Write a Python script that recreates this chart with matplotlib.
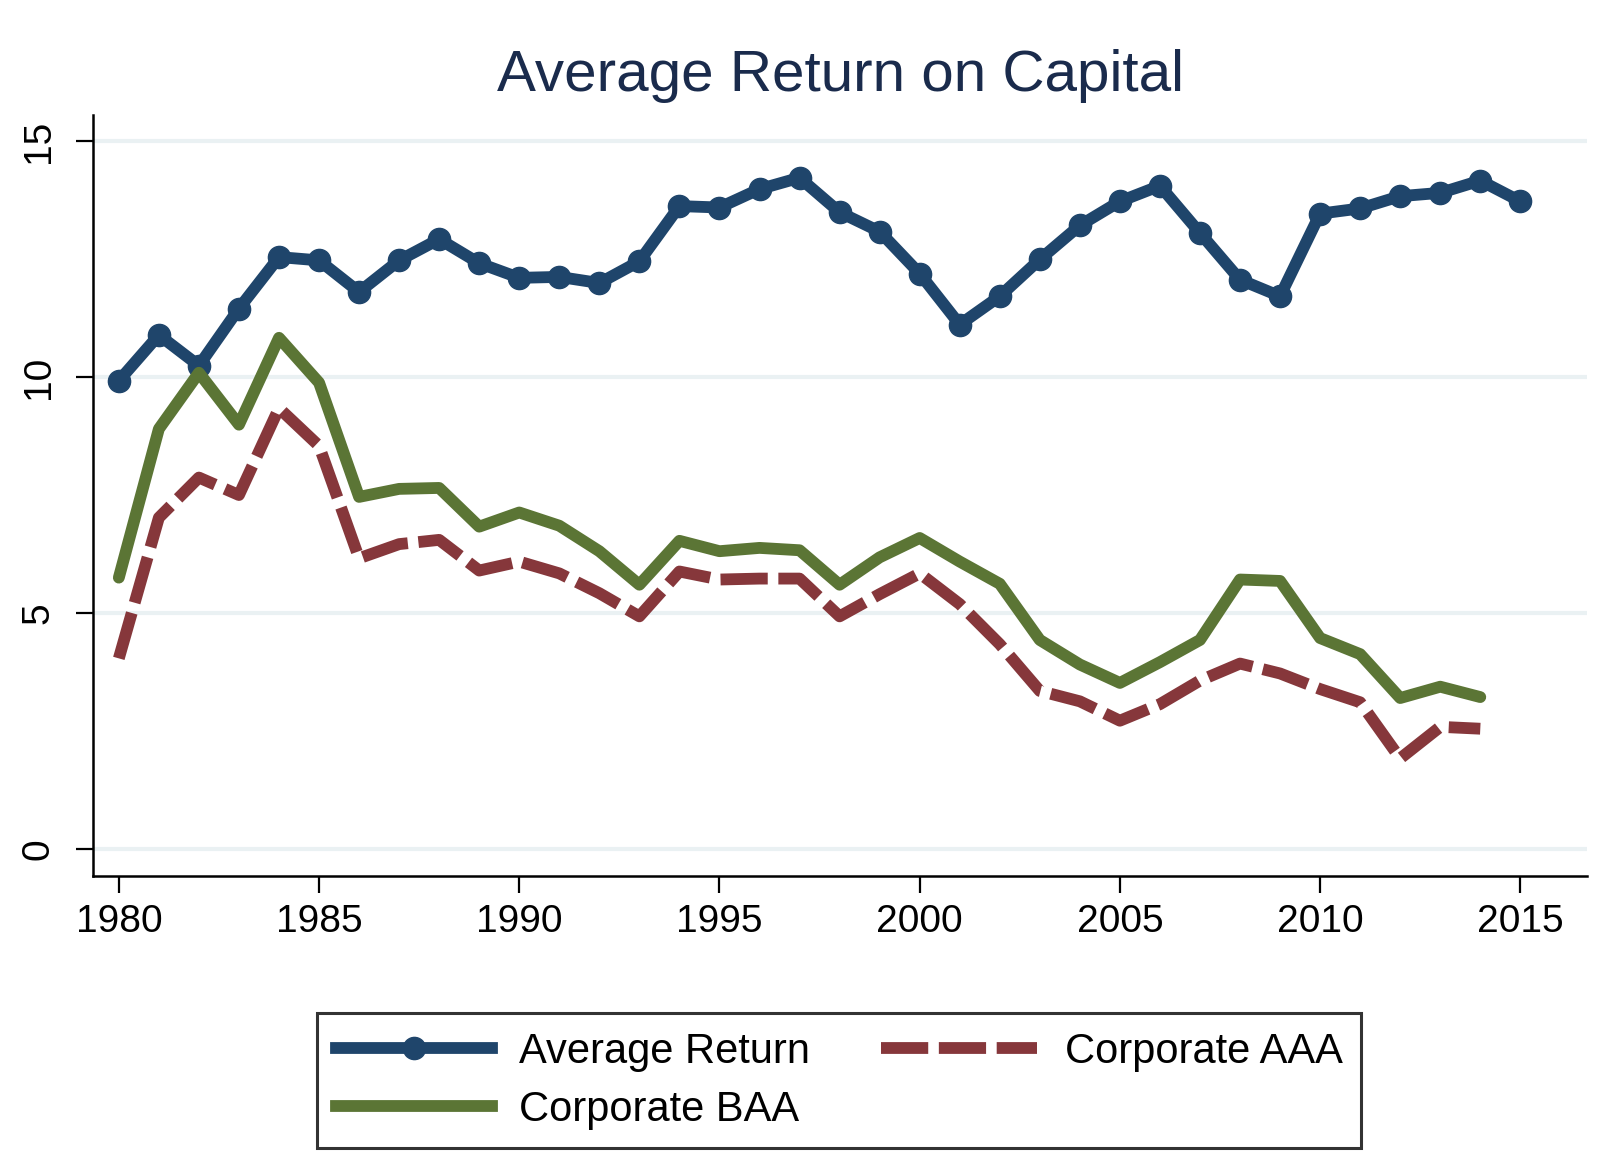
import matplotlib
matplotlib.use("Agg")

import matplotlib.pyplot as plt
from matplotlib.lines import Line2D

plt.rcParams["font.family"] = ["Liberation Sans", "DejaVu Sans"]

years = list(range(1980, 2016))

average_return = [
    9.92, 10.89, 10.24, 11.45, 12.54, 12.47, 11.80, 12.47, 12.92, 12.41,
    12.10, 12.12, 11.99, 12.45, 13.62, 13.59, 13.98, 14.22, 13.49, 13.08,
    12.19, 11.11, 11.71, 12.49, 13.21, 13.72, 14.05, 13.05, 12.06, 11.71,
    13.46, 13.57, 13.83, 13.90, 14.16, 13.72,
]

corporate_baa = [
    5.75, 8.90, 10.09, 8.99, 10.83, 9.88, 7.46, 7.63, 7.65, 6.83,
    7.13, 6.85, 6.31, 5.60, 6.53, 6.31, 6.38, 6.33, 5.60, 6.18,
    6.59, 6.09, 5.62, 4.43, 3.91, 3.52, 3.96, 4.43, 5.71, 5.68,
    4.47, 4.13, 3.20, 3.44, 3.22,
]

corporate_aaa = [
    4.04, 7.02, 7.87, 7.50, 9.34, 8.54, 6.16, 6.46, 6.55, 5.90,
    6.09, 5.84, 5.42, 4.93, 5.88, 5.71, 5.73, 5.73, 4.93, 5.40,
    5.84, 5.19, 4.34, 3.35, 3.13, 2.72, 3.07, 3.57, 3.93, 3.72,
    3.39, 3.11, 1.92, 2.59, 2.55,
]

x_ticks = [1980, 1985, 1990, 1995, 2000, 2005, 2010, 2015]
y_ticks = [0, 5, 10, 15]

NAVY = "#1f456b"
MAROON = "#86373b"
GREEN = "#5b7535"
GRID = "#eaf1f3"

fig = plt.figure(figsize=(16, 11.66), dpi=100)
ax = fig.add_axes([0.058, 0.2487, 0.934, 0.6527])

for v in y_ticks:
    ax.axhline(v, color=GRID, linewidth=3, zorder=0)

ax.plot(years, average_return, color=NAVY, linewidth=8.5, marker="o",
        markersize=16, zorder=3)
ax.plot(years[:len(corporate_aaa)], corporate_aaa, color=MAROON, linewidth=8.5,
        dashes=(4.0, 0.9), dash_capstyle="butt", zorder=4)
ax.plot(years[:len(corporate_baa)], corporate_baa, color=GREEN, linewidth=8.5,
        solid_capstyle="round", zorder=5)

ax.set_xlim(1979.35, 2016.67)
ax.set_ylim(-0.57, 15.55)
ax.set_xticks(x_ticks)
ax.set_yticks(y_ticks)
ax.set_yticklabels([str(v) for v in y_ticks], rotation=90, va="center")

for side in ["top", "right"]:
    ax.spines[side].set_visible(False)
for side in ["left", "bottom"]:
    ax.spines[side].set_linewidth(1.8)

ax.tick_params(axis="both", direction="out", length=12, width=1.6,
               labelsize=28, colors="black")
ax.tick_params(axis="y", pad=14)
ax.tick_params(axis="x", pad=8)

ax.set_title("Average Return on Capital", fontsize=42, color="#1a2b4c", pad=17)

handles = [
    Line2D([], [], color=NAVY, linewidth=8.5, marker="o", markersize=16),
    Line2D([], [], color=GREEN, linewidth=8.5),
    Line2D([], [], color=MAROON, linewidth=8.5, dashes=(4.0, 0.9), dash_capstyle="butt"),
]
labels = ["Average Return", "Corporate BAA", "Corporate AAA"]
leg = fig.legend(handles, labels, loc="upper center", bbox_to_anchor=(0.5245, 0.131),
                 ncol=2, fontsize=30, frameon=True, fancybox=False,
                 handlelength=3.75, handletextpad=0.65, columnspacing=1.7,
                 labelspacing=0.42, borderpad=0.45, borderaxespad=0)
leg.get_frame().set_edgecolor("black")
leg.get_frame().set_linewidth(2.2)

fig.savefig("out.png", dpi=100, facecolor="white")
